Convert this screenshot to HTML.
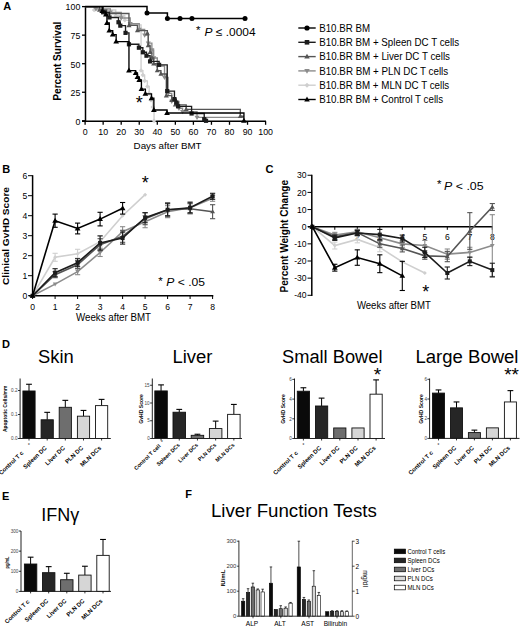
<!DOCTYPE html><html><head><meta charset="utf-8"><style>html,body{margin:0;padding:0;background:#fff;}svg{display:block;}text{font-family:"Liberation Sans", sans-serif;}</style></head><body><svg width="520" height="626" viewBox="0 0 520 626"><text x="3.20" y="10.10" font-size="11" text-anchor="start" font-weight="bold" >A</text>
<line x1="85.50" y1="6.10" x2="85.50" y2="121.90" stroke="#000" stroke-width="1.5"/>
<line x1="82.00" y1="121.20" x2="266.00" y2="121.20" stroke="#000" stroke-width="1.6"/>
<line x1="82.00" y1="120.80" x2="85.50" y2="120.80" stroke="#000" stroke-width="1.3"/>
<text x="80.30" y="124.60" font-size="8.8" text-anchor="end" >0</text>
<line x1="82.00" y1="92.25" x2="85.50" y2="92.25" stroke="#000" stroke-width="1.3"/>
<text x="80.30" y="96.05" font-size="8.8" text-anchor="end" >25</text>
<line x1="82.00" y1="63.70" x2="85.50" y2="63.70" stroke="#000" stroke-width="1.3"/>
<text x="80.30" y="67.50" font-size="8.8" text-anchor="end" >50</text>
<line x1="82.00" y1="35.15" x2="85.50" y2="35.15" stroke="#000" stroke-width="1.3"/>
<text x="80.30" y="38.95" font-size="8.8" text-anchor="end" >75</text>
<line x1="82.00" y1="6.60" x2="85.50" y2="6.60" stroke="#000" stroke-width="1.3"/>
<text x="80.30" y="10.40" font-size="8.8" text-anchor="end" >100</text>
<line x1="85.10" y1="121.20" x2="85.10" y2="124.80" stroke="#000" stroke-width="1.3"/>
<text x="85.10" y="135.00" font-size="8.8" text-anchor="middle" >0</text>
<line x1="103.15" y1="121.20" x2="103.15" y2="124.80" stroke="#000" stroke-width="1.3"/>
<text x="103.15" y="135.00" font-size="8.8" text-anchor="middle" >10</text>
<line x1="121.20" y1="121.20" x2="121.20" y2="124.80" stroke="#000" stroke-width="1.3"/>
<text x="121.20" y="135.00" font-size="8.8" text-anchor="middle" >20</text>
<line x1="139.25" y1="121.20" x2="139.25" y2="124.80" stroke="#000" stroke-width="1.3"/>
<text x="139.25" y="135.00" font-size="8.8" text-anchor="middle" >30</text>
<line x1="157.30" y1="121.20" x2="157.30" y2="124.80" stroke="#000" stroke-width="1.3"/>
<text x="157.30" y="135.00" font-size="8.8" text-anchor="middle" >40</text>
<line x1="175.35" y1="121.20" x2="175.35" y2="124.80" stroke="#000" stroke-width="1.3"/>
<text x="175.35" y="135.00" font-size="8.8" text-anchor="middle" >50</text>
<line x1="193.40" y1="121.20" x2="193.40" y2="124.80" stroke="#000" stroke-width="1.3"/>
<text x="193.40" y="135.00" font-size="8.8" text-anchor="middle" >60</text>
<line x1="211.45" y1="121.20" x2="211.45" y2="124.80" stroke="#000" stroke-width="1.3"/>
<text x="211.45" y="135.00" font-size="8.8" text-anchor="middle" >70</text>
<line x1="229.50" y1="121.20" x2="229.50" y2="124.80" stroke="#000" stroke-width="1.3"/>
<text x="229.50" y="135.00" font-size="8.8" text-anchor="middle" >80</text>
<line x1="247.55" y1="121.20" x2="247.55" y2="124.80" stroke="#000" stroke-width="1.3"/>
<text x="247.55" y="135.00" font-size="8.8" text-anchor="middle" >90</text>
<line x1="265.60" y1="121.20" x2="265.60" y2="124.80" stroke="#000" stroke-width="1.3"/>
<text x="265.60" y="135.00" font-size="8.8" text-anchor="middle" >100</text>
<text x="167.60" y="148.90" font-size="9.5" text-anchor="middle" textLength="68" lengthAdjust="spacingAndGlyphs" >Days after BMT</text>
<text x="0.00" y="0.00" font-size="10.2" text-anchor="middle" font-weight="bold" textLength="79" lengthAdjust="spacingAndGlyphs" transform="translate(60.8,61.2) rotate(-90)">Percent Survival</text>
<polyline points="85.10,6.60 94.12,6.60 94.12,10.03 115.78,10.03 115.78,15.74 124.81,15.74 124.81,20.30 130.22,20.30 130.22,24.87 141.06,24.87 141.06,70.55 142.86,70.55 142.86,75.12 144.66,75.12 144.66,80.83 147.37,80.83 147.37,86.54 149.18,86.54 149.18,93.39 150.98,93.39 150.98,100.24 152.79,100.24 152.79,107.10 154.05,107.10 154.05,120.80" fill="none" stroke="#cfcfcf" stroke-width="1.35" stroke-linejoin="miter"/>
<polygon points="94.12,7.73 96.42,10.03 94.12,12.33 91.83,10.03" fill="#cfcfcf"/>
<polygon points="115.78,13.44 118.08,15.74 115.78,18.04 113.48,15.74" fill="#cfcfcf"/>
<polygon points="124.81,18.00 127.11,20.30 124.81,22.60 122.51,20.30" fill="#cfcfcf"/>
<polygon points="130.22,22.57 132.53,24.87 130.22,27.17 127.92,24.87" fill="#cfcfcf"/>
<polygon points="141.06,68.25 143.36,70.55 141.06,72.85 138.75,70.55" fill="#cfcfcf"/>
<polygon points="142.86,72.82 145.16,75.12 142.86,77.42 140.56,75.12" fill="#cfcfcf"/>
<polygon points="144.66,78.53 146.97,80.83 144.66,83.13 142.36,80.83" fill="#cfcfcf"/>
<polygon points="147.37,84.24 149.67,86.54 147.37,88.84 145.07,86.54" fill="#cfcfcf"/>
<polygon points="149.18,91.09 151.48,93.39 149.18,95.69 146.88,93.39" fill="#cfcfcf"/>
<polygon points="150.98,97.94 153.28,100.24 150.98,102.54 148.68,100.24" fill="#cfcfcf"/>
<polygon points="152.79,104.80 155.09,107.10 152.79,109.40 150.49,107.10" fill="#cfcfcf"/>
<polygon points="154.05,118.50 156.35,120.80 154.05,123.10 151.75,120.80" fill="#cfcfcf"/>
<polyline points="85.10,6.60 95.93,6.60 95.93,8.88 110.37,8.88 110.37,12.31 121.20,12.31 121.20,18.02 130.22,18.02 130.22,23.73 139.25,23.73 139.25,29.44 144.66,29.44 144.66,35.15 148.27,35.15 148.27,43.14 151.88,43.14 151.88,50.00 153.69,50.00 153.69,57.99 157.30,57.99 157.30,65.98 164.52,65.98 164.52,77.40 168.13,77.40 168.13,93.39 171.74,93.39 171.74,101.39 178.96,101.39 178.96,108.24 182.57,108.24 182.57,111.66 197.01,111.66 197.01,117.37 243.94,117.37" fill="none" stroke="#8c8c8c" stroke-width="1.35" stroke-linejoin="miter"/>
<polygon points="95.93,11.53 93.40,7.16 98.46,7.16" fill="#8c8c8c"/>
<polygon points="110.37,14.96 107.84,10.59 112.90,10.59" fill="#8c8c8c"/>
<polygon points="121.20,20.67 118.67,16.30 123.73,16.30" fill="#8c8c8c"/>
<polygon points="130.22,26.38 127.69,22.01 132.75,22.01" fill="#8c8c8c"/>
<polygon points="139.25,32.09 136.72,27.72 141.78,27.72" fill="#8c8c8c"/>
<polygon points="144.66,37.80 142.13,33.43 147.19,33.43" fill="#8c8c8c"/>
<polygon points="148.27,45.79 145.74,41.42 150.80,41.42" fill="#8c8c8c"/>
<polygon points="151.88,52.64 149.35,48.27 154.41,48.27" fill="#8c8c8c"/>
<polygon points="153.69,60.64 151.16,56.27 156.22,56.27" fill="#8c8c8c"/>
<polygon points="157.30,68.63 154.77,64.26 159.83,64.26" fill="#8c8c8c"/>
<polygon points="164.52,80.05 161.99,75.68 167.05,75.68" fill="#8c8c8c"/>
<polygon points="168.13,96.04 165.60,91.67 170.66,91.67" fill="#8c8c8c"/>
<polygon points="171.74,104.03 169.21,99.66 174.27,99.66" fill="#8c8c8c"/>
<polygon points="178.96,110.88 176.43,106.51 181.49,106.51" fill="#8c8c8c"/>
<polygon points="182.57,114.31 180.04,109.94 185.10,109.94" fill="#8c8c8c"/>
<polygon points="197.01,120.02 194.48,115.65 199.54,115.65" fill="#8c8c8c"/>
<polyline points="85.10,6.60 99.54,6.60 99.54,10.03 106.76,10.03 106.76,13.45 128.96,13.45 128.96,25.44 137.44,25.44 137.44,30.58 147.37,30.58 147.37,33.44 148.27,33.44 148.27,45.43 150.08,45.43 150.08,52.28 151.88,52.28 151.88,57.99 153.69,57.99 153.69,63.70 157.30,63.70 157.30,70.55 160.91,70.55 160.91,73.98 166.32,73.98 166.32,95.68 171.74,95.68 171.74,100.24 175.35,100.24 175.35,104.81 186.18,104.81 186.18,109.38 240.33,109.38 240.33,116.23 243.94,116.23" fill="none" stroke="#555" stroke-width="1.35" stroke-linejoin="miter"/>
<polygon points="99.54,7.38 97.01,11.75 102.07,11.75" fill="#555"/>
<polygon points="106.76,10.81 104.23,15.18 109.29,15.18" fill="#555"/>
<polygon points="128.96,22.80 126.43,27.17 131.49,27.17" fill="#555"/>
<polygon points="137.44,27.94 134.91,32.31 139.97,32.31" fill="#555"/>
<polygon points="147.37,30.79 144.84,35.16 149.90,35.16" fill="#555"/>
<polygon points="148.27,42.78 145.74,47.15 150.80,47.15" fill="#555"/>
<polygon points="150.08,49.64 147.55,54.01 152.61,54.01" fill="#555"/>
<polygon points="151.88,55.34 149.35,59.72 154.41,59.72" fill="#555"/>
<polygon points="153.69,61.06 151.16,65.42 156.22,65.42" fill="#555"/>
<polygon points="157.30,67.91 154.77,72.28 159.83,72.28" fill="#555"/>
<polygon points="160.91,71.33 158.38,75.70 163.44,75.70" fill="#555"/>
<polygon points="166.32,93.03 163.79,97.40 168.85,97.40" fill="#555"/>
<polygon points="171.74,97.60 169.21,101.97 174.27,101.97" fill="#555"/>
<polygon points="175.35,102.17 172.82,106.54 177.88,106.54" fill="#555"/>
<polygon points="186.18,106.73 183.65,111.10 188.71,111.10" fill="#555"/>
<polygon points="240.33,113.59 237.80,117.96 242.86,117.96" fill="#555"/>
<polyline points="85.10,6.60 103.15,6.60 103.15,12.31 109.47,12.31 109.47,17.45 118.49,17.45 118.49,22.25 120.30,22.25 120.30,25.67 125.53,25.67 125.53,32.87 128.96,32.87 128.96,44.29 138.89,44.29 138.89,47.71 142.86,47.71 142.86,52.28 146.47,52.28 146.47,55.71 150.08,55.71 150.08,61.42 159.10,61.42 159.10,64.84 167.23,64.84 167.23,91.11 174.45,91.11 174.45,99.10 176.25,99.10 176.25,102.53 178.06,102.53 178.06,106.30 191.59,106.30 191.59,113.49 204.23,113.49 204.23,119.20 206.03,119.20 206.03,120.80" fill="none" stroke="#1c1c1c" stroke-width="1.35" stroke-linejoin="miter"/>
<rect x="101.05" y="10.21" width="4.20" height="4.20" fill="#1c1c1c"/>
<rect x="107.37" y="15.35" width="4.20" height="4.20" fill="#1c1c1c"/>
<rect x="116.39" y="20.15" width="4.20" height="4.20" fill="#1c1c1c"/>
<rect x="118.20" y="23.57" width="4.20" height="4.20" fill="#1c1c1c"/>
<rect x="123.43" y="30.77" width="4.20" height="4.20" fill="#1c1c1c"/>
<rect x="126.86" y="42.19" width="4.20" height="4.20" fill="#1c1c1c"/>
<rect x="136.79" y="45.61" width="4.20" height="4.20" fill="#1c1c1c"/>
<rect x="140.76" y="50.18" width="4.20" height="4.20" fill="#1c1c1c"/>
<rect x="144.37" y="53.61" width="4.20" height="4.20" fill="#1c1c1c"/>
<rect x="147.98" y="59.32" width="4.20" height="4.20" fill="#1c1c1c"/>
<rect x="157.00" y="62.74" width="4.20" height="4.20" fill="#1c1c1c"/>
<rect x="165.13" y="89.01" width="4.20" height="4.20" fill="#1c1c1c"/>
<rect x="172.35" y="97.00" width="4.20" height="4.20" fill="#1c1c1c"/>
<rect x="174.15" y="100.43" width="4.20" height="4.20" fill="#1c1c1c"/>
<rect x="175.96" y="104.20" width="4.20" height="4.20" fill="#1c1c1c"/>
<rect x="189.49" y="111.39" width="4.20" height="4.20" fill="#1c1c1c"/>
<rect x="202.13" y="117.10" width="4.20" height="4.20" fill="#1c1c1c"/>
<rect x="203.94" y="118.70" width="4.20" height="4.20" fill="#1c1c1c"/>
<polyline points="85.10,6.60 102.25,6.60 102.25,11.17 105.86,11.17 105.86,14.59 106.94,14.59 106.94,23.04 109.29,23.04 109.29,30.58 112.72,30.58 112.72,34.58 116.15,34.58 116.15,41.55 128.96,41.55 128.96,70.55 135.64,70.55 135.64,72.95 137.44,72.95 137.44,76.95 139.25,76.95 139.25,80.03 141.42,80.03 141.42,89.17 145.39,89.17 145.39,93.85 151.52,93.85 151.52,98.19 153.87,98.19 153.87,109.95 167.05,109.95 167.05,113.03 243.94,113.03 243.94,120.80" fill="none" stroke="#000" stroke-width="1.35" stroke-linejoin="miter"/>
<polygon points="102.25,8.18 99.39,13.12 105.11,13.12" fill="#000"/>
<polygon points="105.86,11.60 103.00,16.54 108.72,16.54" fill="#000"/>
<polygon points="106.94,20.05 104.08,24.99 109.80,24.99" fill="#000"/>
<polygon points="109.29,27.59 106.43,32.53 112.15,32.53" fill="#000"/>
<polygon points="112.72,31.59 109.86,36.53 115.58,36.53" fill="#000"/>
<polygon points="116.15,38.56 113.29,43.50 119.01,43.50" fill="#000"/>
<polygon points="128.96,67.56 126.10,72.50 131.82,72.50" fill="#000"/>
<polygon points="135.64,69.96 132.78,74.90 138.50,74.90" fill="#000"/>
<polygon points="137.44,73.96 134.58,78.90 140.31,78.90" fill="#000"/>
<polygon points="139.25,77.04 136.39,81.98 142.11,81.98" fill="#000"/>
<polygon points="141.42,86.18 138.56,91.12 144.28,91.12" fill="#000"/>
<polygon points="145.39,90.86 142.53,95.80 148.25,95.80" fill="#000"/>
<polygon points="151.52,95.20 148.66,100.14 154.38,100.14" fill="#000"/>
<polygon points="153.87,106.96 151.01,111.90 156.73,111.90" fill="#000"/>
<polygon points="167.05,110.04 164.19,114.98 169.91,114.98" fill="#000"/>
<polygon points="243.94,117.81 241.08,122.75 246.80,122.75" fill="#000"/>
<polyline points="85.10,6.60 147.01,6.60 147.01,13.00 167.41,13.00 167.41,18.59 245.74,18.59" fill="none" stroke="#000" stroke-width="1.5" stroke-linejoin="miter"/>
<circle cx="147.01" cy="13.00" r="2.50" fill="#000"/>
<circle cx="167.41" cy="18.59" r="2.50" fill="#000"/>
<circle cx="180.04" cy="18.59" r="2.50" fill="#000"/>
<circle cx="191.96" cy="18.59" r="2.50" fill="#000"/>
<circle cx="245.02" cy="18.59" r="2.50" fill="#000"/>
<text x="139.30" y="109.00" font-size="18" text-anchor="middle" >*</text>
<text x="198.30" y="33.80" font-size="11.5" text-anchor="middle" >*</text>
<text x="204.60" y="36.00" font-size="11.5" text-anchor="start" textLength="51" lengthAdjust="spacingAndGlyphs" ><tspan font-style="italic">P</tspan> ≤ .0004</text>
<line x1="298.30" y1="28.00" x2="315.70" y2="28.00" stroke="#000" stroke-width="1.4"/>
<circle cx="307.00" cy="28.00" r="2.60" fill="#000"/>
<text x="319.20" y="31.70" font-size="10.6" text-anchor="start" textLength="50.8" lengthAdjust="spacingAndGlyphs" >B10.BR BM</text>
<line x1="298.30" y1="42.30" x2="315.70" y2="42.30" stroke="#1c1c1c" stroke-width="1.4"/>
<rect x="304.70" y="40.00" width="4.60" height="4.60" fill="#1c1c1c"/>
<text x="319.20" y="46.00" font-size="10.6" text-anchor="start" textLength="140" lengthAdjust="spacingAndGlyphs" >B10.BR BM + Spleen DC T cells</text>
<line x1="298.30" y1="56.60" x2="315.70" y2="56.60" stroke="#555" stroke-width="1.4"/>
<polygon points="307.00,53.73 304.25,58.48 309.75,58.48" fill="#555"/>
<text x="319.20" y="60.30" font-size="10.6" text-anchor="start" textLength="130.8" lengthAdjust="spacingAndGlyphs" >B10.BR BM + Liver DC T cells</text>
<line x1="298.30" y1="70.90" x2="315.70" y2="70.90" stroke="#8c8c8c" stroke-width="1.4"/>
<polygon points="307.00,73.78 304.25,69.03 309.75,69.03" fill="#8c8c8c"/>
<text x="319.20" y="74.60" font-size="10.6" text-anchor="start" textLength="129" lengthAdjust="spacingAndGlyphs" >B10.BR BM + PLN DC T cells</text>
<line x1="298.30" y1="85.20" x2="315.70" y2="85.20" stroke="#cfcfcf" stroke-width="1.4"/>
<polygon points="307.00,82.70 309.50,85.20 307.00,87.70 304.50,85.20" fill="#cfcfcf"/>
<text x="319.20" y="88.90" font-size="10.6" text-anchor="start" textLength="130" lengthAdjust="spacingAndGlyphs" >B10.BR BM + MLN DC T cells</text>
<line x1="298.30" y1="99.50" x2="315.70" y2="99.50" stroke="#000" stroke-width="1.4"/>
<polygon points="307.00,96.62 304.25,101.38 309.75,101.38" fill="#000"/>
<text x="319.20" y="103.20" font-size="10.6" text-anchor="start" textLength="123.9" lengthAdjust="spacingAndGlyphs" >B10.BR BM + Control T cells</text>
<text x="2.30" y="172.50" font-size="11" text-anchor="start" font-weight="bold" >B</text>
<line x1="32.60" y1="175.20" x2="32.60" y2="296.50" stroke="#000" stroke-width="1.5"/>
<line x1="29.00" y1="295.70" x2="213.30" y2="295.70" stroke="#000" stroke-width="1.6"/>
<line x1="28.00" y1="295.70" x2="32.60" y2="295.70" stroke="#000" stroke-width="1"/>
<text x="27.30" y="298.80" font-size="8.6" text-anchor="end" >0</text>
<line x1="28.00" y1="275.70" x2="32.60" y2="275.70" stroke="#000" stroke-width="1"/>
<text x="27.30" y="278.80" font-size="8.6" text-anchor="end" >1</text>
<line x1="28.00" y1="255.70" x2="32.60" y2="255.70" stroke="#000" stroke-width="1"/>
<text x="27.30" y="258.80" font-size="8.6" text-anchor="end" >2</text>
<line x1="28.00" y1="235.70" x2="32.60" y2="235.70" stroke="#000" stroke-width="1"/>
<text x="27.30" y="238.80" font-size="8.6" text-anchor="end" >3</text>
<line x1="28.00" y1="215.70" x2="32.60" y2="215.70" stroke="#000" stroke-width="1"/>
<text x="27.30" y="218.80" font-size="8.6" text-anchor="end" >4</text>
<line x1="28.00" y1="195.70" x2="32.60" y2="195.70" stroke="#000" stroke-width="1"/>
<text x="27.30" y="198.80" font-size="8.6" text-anchor="end" >5</text>
<line x1="28.00" y1="175.70" x2="32.60" y2="175.70" stroke="#000" stroke-width="1"/>
<text x="27.30" y="178.80" font-size="8.6" text-anchor="end" >6</text>
<line x1="32.60" y1="295.70" x2="32.60" y2="299.00" stroke="#000" stroke-width="1"/>
<text x="32.60" y="309.80" font-size="8.6" text-anchor="middle" >0</text>
<line x1="55.10" y1="295.70" x2="55.10" y2="299.00" stroke="#000" stroke-width="1"/>
<text x="55.10" y="309.80" font-size="8.6" text-anchor="middle" >1</text>
<line x1="77.60" y1="295.70" x2="77.60" y2="299.00" stroke="#000" stroke-width="1"/>
<text x="77.60" y="309.80" font-size="8.6" text-anchor="middle" >2</text>
<line x1="100.10" y1="295.70" x2="100.10" y2="299.00" stroke="#000" stroke-width="1"/>
<text x="100.10" y="309.80" font-size="8.6" text-anchor="middle" >3</text>
<line x1="122.60" y1="295.70" x2="122.60" y2="299.00" stroke="#000" stroke-width="1"/>
<text x="122.60" y="309.80" font-size="8.6" text-anchor="middle" >4</text>
<line x1="145.10" y1="295.70" x2="145.10" y2="299.00" stroke="#000" stroke-width="1"/>
<text x="145.10" y="309.80" font-size="8.6" text-anchor="middle" >5</text>
<line x1="167.60" y1="295.70" x2="167.60" y2="299.00" stroke="#000" stroke-width="1"/>
<text x="167.60" y="309.80" font-size="8.6" text-anchor="middle" >6</text>
<line x1="190.10" y1="295.70" x2="190.10" y2="299.00" stroke="#000" stroke-width="1"/>
<text x="190.10" y="309.80" font-size="8.6" text-anchor="middle" >7</text>
<line x1="212.60" y1="295.70" x2="212.60" y2="299.00" stroke="#000" stroke-width="1"/>
<text x="212.60" y="309.80" font-size="8.6" text-anchor="middle" >8</text>
<text x="113.50" y="321.20" font-size="10" text-anchor="middle" textLength="75" lengthAdjust="spacingAndGlyphs" >Weeks after BMT</text>
<text x="0.00" y="0.00" font-size="9.7" text-anchor="middle" font-weight="bold" textLength="98" lengthAdjust="spacingAndGlyphs" transform="translate(8.5,236) rotate(-90)">Clinical GvHD Score</text>
<line x1="77.60" y1="268.70" x2="77.60" y2="274.70" stroke="#8c8c8c" stroke-width="1.1"/>
<line x1="75.00" y1="268.70" x2="80.20" y2="268.70" stroke="#8c8c8c" stroke-width="1.1"/>
<line x1="75.00" y1="274.70" x2="80.20" y2="274.70" stroke="#8c8c8c" stroke-width="1.1"/>
<line x1="100.10" y1="248.50" x2="100.10" y2="256.50" stroke="#8c8c8c" stroke-width="1.1"/>
<line x1="97.50" y1="248.50" x2="102.70" y2="248.50" stroke="#8c8c8c" stroke-width="1.1"/>
<line x1="97.50" y1="256.50" x2="102.70" y2="256.50" stroke="#8c8c8c" stroke-width="1.1"/>
<line x1="122.60" y1="226.70" x2="122.60" y2="236.70" stroke="#8c8c8c" stroke-width="1.1"/>
<line x1="120.00" y1="226.70" x2="125.20" y2="226.70" stroke="#8c8c8c" stroke-width="1.1"/>
<line x1="120.00" y1="236.70" x2="125.20" y2="236.70" stroke="#8c8c8c" stroke-width="1.1"/>
<line x1="145.10" y1="215.70" x2="145.10" y2="227.70" stroke="#8c8c8c" stroke-width="1.1"/>
<line x1="142.50" y1="215.70" x2="147.70" y2="215.70" stroke="#8c8c8c" stroke-width="1.1"/>
<line x1="142.50" y1="227.70" x2="147.70" y2="227.70" stroke="#8c8c8c" stroke-width="1.1"/>
<line x1="167.60" y1="205.70" x2="167.60" y2="217.70" stroke="#8c8c8c" stroke-width="1.1"/>
<line x1="165.00" y1="205.70" x2="170.20" y2="205.70" stroke="#8c8c8c" stroke-width="1.1"/>
<line x1="165.00" y1="217.70" x2="170.20" y2="217.70" stroke="#8c8c8c" stroke-width="1.1"/>
<line x1="190.10" y1="201.70" x2="190.10" y2="213.70" stroke="#8c8c8c" stroke-width="1.1"/>
<line x1="187.50" y1="201.70" x2="192.70" y2="201.70" stroke="#8c8c8c" stroke-width="1.1"/>
<line x1="187.50" y1="213.70" x2="192.70" y2="213.70" stroke="#8c8c8c" stroke-width="1.1"/>
<line x1="212.60" y1="195.30" x2="212.60" y2="201.30" stroke="#8c8c8c" stroke-width="1.1"/>
<line x1="210.00" y1="195.30" x2="215.20" y2="195.30" stroke="#8c8c8c" stroke-width="1.1"/>
<line x1="210.00" y1="201.30" x2="215.20" y2="201.30" stroke="#8c8c8c" stroke-width="1.1"/>
<polyline points="32.60,295.70 55.10,284.10 77.60,271.70 100.10,252.50 122.60,231.70 145.10,221.70 167.60,211.70 190.10,207.70 212.60,198.30" fill="none" stroke="#8c8c8c" stroke-width="1.6" stroke-linejoin="miter"/>
<polygon points="32.60,298.12 30.29,294.12 34.91,294.12" fill="#8c8c8c"/>
<polygon points="55.10,286.51 52.79,282.52 57.41,282.52" fill="#8c8c8c"/>
<polygon points="77.60,274.12 75.29,270.12 79.91,270.12" fill="#8c8c8c"/>
<polygon points="100.10,254.91 97.79,250.93 102.41,250.93" fill="#8c8c8c"/>
<polygon points="122.60,234.11 120.29,230.12 124.91,230.12" fill="#8c8c8c"/>
<polygon points="145.10,224.11 142.79,220.12 147.41,220.12" fill="#8c8c8c"/>
<polygon points="167.60,214.11 165.29,210.12 169.91,210.12" fill="#8c8c8c"/>
<polygon points="190.10,210.11 187.79,206.12 192.41,206.12" fill="#8c8c8c"/>
<polygon points="212.60,200.71 210.29,196.72 214.91,196.72" fill="#8c8c8c"/>
<line x1="55.10" y1="253.30" x2="55.10" y2="261.30" stroke="#cfcfcf" stroke-width="1.1"/>
<line x1="52.50" y1="253.30" x2="57.70" y2="253.30" stroke="#cfcfcf" stroke-width="1.1"/>
<line x1="52.50" y1="261.30" x2="57.70" y2="261.30" stroke="#cfcfcf" stroke-width="1.1"/>
<line x1="77.60" y1="249.30" x2="77.60" y2="258.10" stroke="#cfcfcf" stroke-width="1.1"/>
<line x1="75.00" y1="249.30" x2="80.20" y2="249.30" stroke="#cfcfcf" stroke-width="1.1"/>
<line x1="75.00" y1="258.10" x2="80.20" y2="258.10" stroke="#cfcfcf" stroke-width="1.1"/>
<line x1="100.10" y1="235.70" x2="100.10" y2="247.70" stroke="#cfcfcf" stroke-width="1.1"/>
<line x1="97.50" y1="235.70" x2="102.70" y2="235.70" stroke="#cfcfcf" stroke-width="1.1"/>
<line x1="97.50" y1="247.70" x2="102.70" y2="247.70" stroke="#cfcfcf" stroke-width="1.1"/>
<polyline points="32.60,295.70 55.10,257.30 77.60,253.70 100.10,241.70 122.60,215.70 145.10,194.70" fill="none" stroke="#cfcfcf" stroke-width="1.6" stroke-linejoin="miter"/>
<polygon points="32.60,293.70 34.60,295.70 32.60,297.70 30.60,295.70" fill="#cfcfcf"/>
<polygon points="55.10,255.30 57.10,257.30 55.10,259.30 53.10,257.30" fill="#cfcfcf"/>
<polygon points="77.60,251.70 79.60,253.70 77.60,255.70 75.60,253.70" fill="#cfcfcf"/>
<polygon points="100.10,239.70 102.10,241.70 100.10,243.70 98.10,241.70" fill="#cfcfcf"/>
<polygon points="122.60,213.70 124.60,215.70 122.60,217.70 120.60,215.70" fill="#cfcfcf"/>
<polygon points="145.10,192.70 147.10,194.70 145.10,196.70 143.10,194.70" fill="#cfcfcf"/>
<line x1="55.10" y1="271.70" x2="55.10" y2="277.70" stroke="#555" stroke-width="1.1"/>
<line x1="52.50" y1="271.70" x2="57.70" y2="271.70" stroke="#555" stroke-width="1.1"/>
<line x1="52.50" y1="277.70" x2="57.70" y2="277.70" stroke="#555" stroke-width="1.1"/>
<line x1="77.60" y1="260.70" x2="77.60" y2="268.70" stroke="#555" stroke-width="1.1"/>
<line x1="75.00" y1="260.70" x2="80.20" y2="260.70" stroke="#555" stroke-width="1.1"/>
<line x1="75.00" y1="268.70" x2="80.20" y2="268.70" stroke="#555" stroke-width="1.1"/>
<line x1="100.10" y1="238.70" x2="100.10" y2="250.70" stroke="#555" stroke-width="1.1"/>
<line x1="97.50" y1="238.70" x2="102.70" y2="238.70" stroke="#555" stroke-width="1.1"/>
<line x1="97.50" y1="250.70" x2="102.70" y2="250.70" stroke="#555" stroke-width="1.1"/>
<line x1="122.60" y1="230.30" x2="122.60" y2="242.30" stroke="#555" stroke-width="1.1"/>
<line x1="120.00" y1="230.30" x2="125.20" y2="230.30" stroke="#555" stroke-width="1.1"/>
<line x1="120.00" y1="242.30" x2="125.20" y2="242.30" stroke="#555" stroke-width="1.1"/>
<line x1="145.10" y1="212.70" x2="145.10" y2="224.70" stroke="#555" stroke-width="1.1"/>
<line x1="142.50" y1="212.70" x2="147.70" y2="212.70" stroke="#555" stroke-width="1.1"/>
<line x1="142.50" y1="224.70" x2="147.70" y2="224.70" stroke="#555" stroke-width="1.1"/>
<line x1="167.60" y1="202.70" x2="167.60" y2="216.70" stroke="#555" stroke-width="1.1"/>
<line x1="165.00" y1="202.70" x2="170.20" y2="202.70" stroke="#555" stroke-width="1.1"/>
<line x1="165.00" y1="216.70" x2="170.20" y2="216.70" stroke="#555" stroke-width="1.1"/>
<line x1="190.10" y1="203.70" x2="190.10" y2="213.70" stroke="#555" stroke-width="1.1"/>
<line x1="187.50" y1="203.70" x2="192.70" y2="203.70" stroke="#555" stroke-width="1.1"/>
<line x1="187.50" y1="213.70" x2="192.70" y2="213.70" stroke="#555" stroke-width="1.1"/>
<line x1="212.60" y1="204.70" x2="212.60" y2="218.70" stroke="#555" stroke-width="1.1"/>
<line x1="210.00" y1="204.70" x2="215.20" y2="204.70" stroke="#555" stroke-width="1.1"/>
<line x1="210.00" y1="218.70" x2="215.20" y2="218.70" stroke="#555" stroke-width="1.1"/>
<polyline points="32.60,295.70 55.10,274.70 77.60,264.70 100.10,244.70 122.60,236.30 145.10,218.70 167.60,209.70 190.10,208.70 212.60,211.70" fill="none" stroke="#555" stroke-width="1.6" stroke-linejoin="miter"/>
<polygon points="32.60,293.17 30.18,297.35 35.02,297.35" fill="#555"/>
<polygon points="55.10,272.17 52.68,276.35 57.52,276.35" fill="#555"/>
<polygon points="77.60,262.17 75.18,266.35 80.02,266.35" fill="#555"/>
<polygon points="100.10,242.17 97.68,246.35 102.52,246.35" fill="#555"/>
<polygon points="122.60,233.77 120.18,237.95 125.02,237.95" fill="#555"/>
<polygon points="145.10,216.17 142.68,220.35 147.52,220.35" fill="#555"/>
<polygon points="167.60,207.17 165.18,211.35 170.02,211.35" fill="#555"/>
<polygon points="190.10,206.17 187.68,210.35 192.52,210.35" fill="#555"/>
<polygon points="212.60,209.17 210.18,213.35 215.02,213.35" fill="#555"/>
<line x1="55.10" y1="268.70" x2="55.10" y2="276.70" stroke="#1c1c1c" stroke-width="1.1"/>
<line x1="52.50" y1="268.70" x2="57.70" y2="268.70" stroke="#1c1c1c" stroke-width="1.1"/>
<line x1="52.50" y1="276.70" x2="57.70" y2="276.70" stroke="#1c1c1c" stroke-width="1.1"/>
<line x1="77.60" y1="258.70" x2="77.60" y2="266.70" stroke="#1c1c1c" stroke-width="1.1"/>
<line x1="75.00" y1="258.70" x2="80.20" y2="258.70" stroke="#1c1c1c" stroke-width="1.1"/>
<line x1="75.00" y1="266.70" x2="80.20" y2="266.70" stroke="#1c1c1c" stroke-width="1.1"/>
<line x1="100.10" y1="235.90" x2="100.10" y2="249.90" stroke="#1c1c1c" stroke-width="1.1"/>
<line x1="97.50" y1="235.90" x2="102.70" y2="235.90" stroke="#1c1c1c" stroke-width="1.1"/>
<line x1="97.50" y1="249.90" x2="102.70" y2="249.90" stroke="#1c1c1c" stroke-width="1.1"/>
<line x1="122.60" y1="232.10" x2="122.60" y2="244.10" stroke="#1c1c1c" stroke-width="1.1"/>
<line x1="120.00" y1="232.10" x2="125.20" y2="232.10" stroke="#1c1c1c" stroke-width="1.1"/>
<line x1="120.00" y1="244.10" x2="125.20" y2="244.10" stroke="#1c1c1c" stroke-width="1.1"/>
<line x1="145.10" y1="212.70" x2="145.10" y2="222.70" stroke="#1c1c1c" stroke-width="1.1"/>
<line x1="142.50" y1="212.70" x2="147.70" y2="212.70" stroke="#1c1c1c" stroke-width="1.1"/>
<line x1="142.50" y1="222.70" x2="147.70" y2="222.70" stroke="#1c1c1c" stroke-width="1.1"/>
<line x1="167.60" y1="203.70" x2="167.60" y2="215.70" stroke="#1c1c1c" stroke-width="1.1"/>
<line x1="165.00" y1="203.70" x2="170.20" y2="203.70" stroke="#1c1c1c" stroke-width="1.1"/>
<line x1="165.00" y1="215.70" x2="170.20" y2="215.70" stroke="#1c1c1c" stroke-width="1.1"/>
<line x1="190.10" y1="202.70" x2="190.10" y2="212.70" stroke="#1c1c1c" stroke-width="1.1"/>
<line x1="187.50" y1="202.70" x2="192.70" y2="202.70" stroke="#1c1c1c" stroke-width="1.1"/>
<line x1="187.50" y1="212.70" x2="192.70" y2="212.70" stroke="#1c1c1c" stroke-width="1.1"/>
<line x1="212.60" y1="193.30" x2="212.60" y2="199.30" stroke="#1c1c1c" stroke-width="1.1"/>
<line x1="210.00" y1="193.30" x2="215.20" y2="193.30" stroke="#1c1c1c" stroke-width="1.1"/>
<line x1="210.00" y1="199.30" x2="215.20" y2="199.30" stroke="#1c1c1c" stroke-width="1.1"/>
<polyline points="32.60,295.70 55.10,272.70 77.60,262.70 100.10,242.90 122.60,238.10 145.10,217.70 167.60,209.70 190.10,207.70 212.60,196.30" fill="none" stroke="#1c1c1c" stroke-width="1.6" stroke-linejoin="miter"/>
<rect x="30.60" y="293.70" width="4.00" height="4.00" fill="#1c1c1c"/>
<rect x="53.10" y="270.70" width="4.00" height="4.00" fill="#1c1c1c"/>
<rect x="75.60" y="260.70" width="4.00" height="4.00" fill="#1c1c1c"/>
<rect x="98.10" y="240.90" width="4.00" height="4.00" fill="#1c1c1c"/>
<rect x="120.60" y="236.10" width="4.00" height="4.00" fill="#1c1c1c"/>
<rect x="143.10" y="215.70" width="4.00" height="4.00" fill="#1c1c1c"/>
<rect x="165.60" y="207.70" width="4.00" height="4.00" fill="#1c1c1c"/>
<rect x="188.10" y="205.70" width="4.00" height="4.00" fill="#1c1c1c"/>
<rect x="210.60" y="194.30" width="4.00" height="4.00" fill="#1c1c1c"/>
<line x1="55.10" y1="214.10" x2="55.10" y2="227.30" stroke="#000" stroke-width="1.1"/>
<line x1="52.50" y1="214.10" x2="57.70" y2="214.10" stroke="#000" stroke-width="1.1"/>
<line x1="52.50" y1="227.30" x2="57.70" y2="227.30" stroke="#000" stroke-width="1.1"/>
<line x1="77.60" y1="223.10" x2="77.60" y2="233.90" stroke="#000" stroke-width="1.1"/>
<line x1="75.00" y1="223.10" x2="80.20" y2="223.10" stroke="#000" stroke-width="1.1"/>
<line x1="75.00" y1="233.90" x2="80.20" y2="233.90" stroke="#000" stroke-width="1.1"/>
<line x1="100.10" y1="212.30" x2="100.10" y2="225.90" stroke="#000" stroke-width="1.1"/>
<line x1="97.50" y1="212.30" x2="102.70" y2="212.30" stroke="#000" stroke-width="1.1"/>
<line x1="97.50" y1="225.90" x2="102.70" y2="225.90" stroke="#000" stroke-width="1.1"/>
<line x1="122.60" y1="202.50" x2="122.60" y2="214.10" stroke="#000" stroke-width="1.1"/>
<line x1="120.00" y1="202.50" x2="125.20" y2="202.50" stroke="#000" stroke-width="1.1"/>
<line x1="120.00" y1="214.10" x2="125.20" y2="214.10" stroke="#000" stroke-width="1.1"/>
<polyline points="32.60,295.70 55.10,220.70 77.60,228.50 100.10,219.10 122.60,208.30" fill="none" stroke="#000" stroke-width="1.6" stroke-linejoin="miter"/>
<polygon points="32.60,292.71 29.74,297.65 35.46,297.65" fill="#000"/>
<polygon points="55.10,217.71 52.24,222.65 57.96,222.65" fill="#000"/>
<polygon points="77.60,225.51 74.74,230.45 80.46,230.45" fill="#000"/>
<polygon points="100.10,216.11 97.24,221.05 102.96,221.05" fill="#000"/>
<polygon points="122.60,205.31 119.74,210.25 125.46,210.25" fill="#000"/>
<text x="145.30" y="188.50" font-size="18" text-anchor="middle" >*</text>
<text x="160.40" y="284.60" font-size="11.5" text-anchor="middle" >*</text>
<text x="166.30" y="286.20" font-size="11.5" text-anchor="start" textLength="38.7" lengthAdjust="spacingAndGlyphs" ><tspan font-style="italic">P</tspan> &lt; .05</text>
<text x="265.50" y="173.40" font-size="11" text-anchor="start" font-weight="bold" >C</text>
<line x1="311.80" y1="174.80" x2="311.80" y2="296.00" stroke="#000" stroke-width="1.5"/>
<line x1="308.00" y1="226.70" x2="493.00" y2="226.70" stroke="#000" stroke-width="1.6"/>
<line x1="307.50" y1="295.30" x2="311.80" y2="295.30" stroke="#000" stroke-width="1"/>
<text x="306.60" y="298.40" font-size="8.6" text-anchor="end" >-40</text>
<line x1="307.50" y1="278.15" x2="311.80" y2="278.15" stroke="#000" stroke-width="1"/>
<text x="306.60" y="281.25" font-size="8.6" text-anchor="end" >-30</text>
<line x1="307.50" y1="261.00" x2="311.80" y2="261.00" stroke="#000" stroke-width="1"/>
<text x="306.60" y="264.10" font-size="8.6" text-anchor="end" >-20</text>
<line x1="307.50" y1="243.85" x2="311.80" y2="243.85" stroke="#000" stroke-width="1"/>
<text x="306.60" y="246.95" font-size="8.6" text-anchor="end" >-10</text>
<line x1="307.50" y1="226.70" x2="311.80" y2="226.70" stroke="#000" stroke-width="1"/>
<text x="306.60" y="229.80" font-size="8.6" text-anchor="end" >0</text>
<line x1="307.50" y1="209.55" x2="311.80" y2="209.55" stroke="#000" stroke-width="1"/>
<text x="306.60" y="212.65" font-size="8.6" text-anchor="end" >10</text>
<line x1="307.50" y1="192.40" x2="311.80" y2="192.40" stroke="#000" stroke-width="1"/>
<text x="306.60" y="195.50" font-size="8.6" text-anchor="end" >20</text>
<line x1="307.50" y1="175.25" x2="311.80" y2="175.25" stroke="#000" stroke-width="1"/>
<text x="306.60" y="178.35" font-size="8.6" text-anchor="end" >30</text>
<line x1="312.30" y1="226.70" x2="312.30" y2="229.80" stroke="#000" stroke-width="1"/>
<line x1="334.80" y1="226.70" x2="334.80" y2="229.80" stroke="#000" stroke-width="1"/>
<text x="334.80" y="240.30" font-size="8.6" text-anchor="middle" >1</text>
<line x1="357.30" y1="226.70" x2="357.30" y2="229.80" stroke="#000" stroke-width="1"/>
<text x="357.30" y="240.30" font-size="8.6" text-anchor="middle" >2</text>
<line x1="379.80" y1="226.70" x2="379.80" y2="229.80" stroke="#000" stroke-width="1"/>
<text x="379.80" y="240.30" font-size="8.6" text-anchor="middle" >3</text>
<line x1="402.30" y1="226.70" x2="402.30" y2="229.80" stroke="#000" stroke-width="1"/>
<text x="402.30" y="240.30" font-size="8.6" text-anchor="middle" >4</text>
<line x1="424.80" y1="226.70" x2="424.80" y2="229.80" stroke="#000" stroke-width="1"/>
<text x="424.80" y="240.30" font-size="8.6" text-anchor="middle" >5</text>
<line x1="447.30" y1="226.70" x2="447.30" y2="229.80" stroke="#000" stroke-width="1"/>
<text x="447.30" y="240.30" font-size="8.6" text-anchor="middle" >6</text>
<line x1="469.80" y1="226.70" x2="469.80" y2="229.80" stroke="#000" stroke-width="1"/>
<text x="469.80" y="240.30" font-size="8.6" text-anchor="middle" >7</text>
<line x1="492.30" y1="226.70" x2="492.30" y2="229.80" stroke="#000" stroke-width="1"/>
<text x="492.30" y="240.30" font-size="8.6" text-anchor="middle" >8</text>
<text x="393.90" y="309.00" font-size="10" text-anchor="middle" textLength="74" lengthAdjust="spacingAndGlyphs" >Weeks after BMT</text>
<text x="0.00" y="0.00" font-size="10" text-anchor="middle" font-weight="bold" textLength="112.5" lengthAdjust="spacingAndGlyphs" transform="translate(288.4,236.2) rotate(-90)">Percent Weight Change</text>
<line x1="334.80" y1="232.36" x2="334.80" y2="237.50" stroke="#8c8c8c" stroke-width="1.1"/>
<line x1="332.20" y1="232.36" x2="337.40" y2="232.36" stroke="#8c8c8c" stroke-width="1.1"/>
<line x1="332.20" y1="237.50" x2="337.40" y2="237.50" stroke="#8c8c8c" stroke-width="1.1"/>
<line x1="357.30" y1="229.27" x2="357.30" y2="234.42" stroke="#8c8c8c" stroke-width="1.1"/>
<line x1="354.70" y1="229.27" x2="359.90" y2="229.27" stroke="#8c8c8c" stroke-width="1.1"/>
<line x1="354.70" y1="234.42" x2="359.90" y2="234.42" stroke="#8c8c8c" stroke-width="1.1"/>
<line x1="379.80" y1="234.42" x2="379.80" y2="241.28" stroke="#8c8c8c" stroke-width="1.1"/>
<line x1="377.20" y1="234.42" x2="382.40" y2="234.42" stroke="#8c8c8c" stroke-width="1.1"/>
<line x1="377.20" y1="241.28" x2="382.40" y2="241.28" stroke="#8c8c8c" stroke-width="1.1"/>
<line x1="402.30" y1="240.42" x2="402.30" y2="247.28" stroke="#8c8c8c" stroke-width="1.1"/>
<line x1="399.70" y1="240.42" x2="404.90" y2="240.42" stroke="#8c8c8c" stroke-width="1.1"/>
<line x1="399.70" y1="247.28" x2="404.90" y2="247.28" stroke="#8c8c8c" stroke-width="1.1"/>
<line x1="424.80" y1="240.42" x2="424.80" y2="250.71" stroke="#8c8c8c" stroke-width="1.1"/>
<line x1="422.20" y1="240.42" x2="427.40" y2="240.42" stroke="#8c8c8c" stroke-width="1.1"/>
<line x1="422.20" y1="250.71" x2="427.40" y2="250.71" stroke="#8c8c8c" stroke-width="1.1"/>
<line x1="447.30" y1="249.00" x2="447.30" y2="259.28" stroke="#8c8c8c" stroke-width="1.1"/>
<line x1="444.70" y1="249.00" x2="449.90" y2="249.00" stroke="#8c8c8c" stroke-width="1.1"/>
<line x1="444.70" y1="259.28" x2="449.90" y2="259.28" stroke="#8c8c8c" stroke-width="1.1"/>
<line x1="469.80" y1="247.28" x2="469.80" y2="257.57" stroke="#8c8c8c" stroke-width="1.1"/>
<line x1="467.20" y1="247.28" x2="472.40" y2="247.28" stroke="#8c8c8c" stroke-width="1.1"/>
<line x1="467.20" y1="257.57" x2="472.40" y2="257.57" stroke="#8c8c8c" stroke-width="1.1"/>
<line x1="492.30" y1="214.69" x2="492.30" y2="276.44" stroke="#8c8c8c" stroke-width="1.1"/>
<line x1="489.70" y1="214.69" x2="494.90" y2="214.69" stroke="#8c8c8c" stroke-width="1.1"/>
<line x1="489.70" y1="276.44" x2="494.90" y2="276.44" stroke="#8c8c8c" stroke-width="1.1"/>
<polyline points="312.30,226.70 334.80,234.93 357.30,231.84 379.80,237.85 402.30,243.85 424.80,245.56 447.30,254.14 469.80,252.42 492.30,245.56" fill="none" stroke="#8c8c8c" stroke-width="1.6" stroke-linejoin="miter"/>
<polygon points="312.30,229.11 309.99,225.12 314.61,225.12" fill="#8c8c8c"/>
<polygon points="334.80,237.35 332.49,233.36 337.11,233.36" fill="#8c8c8c"/>
<polygon points="357.30,234.26 354.99,230.27 359.61,230.27" fill="#8c8c8c"/>
<polygon points="379.80,240.26 377.49,236.27 382.11,236.27" fill="#8c8c8c"/>
<polygon points="402.30,246.26 399.99,242.28 404.61,242.28" fill="#8c8c8c"/>
<polygon points="424.80,247.98 422.49,243.99 427.11,243.99" fill="#8c8c8c"/>
<polygon points="447.30,256.56 444.99,252.56 449.61,252.56" fill="#8c8c8c"/>
<polygon points="469.80,254.84 467.49,250.85 472.11,250.85" fill="#8c8c8c"/>
<polygon points="492.30,247.98 489.99,243.99 494.61,243.99" fill="#8c8c8c"/>
<line x1="334.80" y1="242.13" x2="334.80" y2="249.00" stroke="#cfcfcf" stroke-width="1.1"/>
<line x1="332.20" y1="242.13" x2="337.40" y2="242.13" stroke="#cfcfcf" stroke-width="1.1"/>
<line x1="332.20" y1="249.00" x2="337.40" y2="249.00" stroke="#cfcfcf" stroke-width="1.1"/>
<line x1="357.30" y1="235.96" x2="357.30" y2="242.82" stroke="#cfcfcf" stroke-width="1.1"/>
<line x1="354.70" y1="235.96" x2="359.90" y2="235.96" stroke="#cfcfcf" stroke-width="1.1"/>
<line x1="354.70" y1="242.82" x2="359.90" y2="242.82" stroke="#cfcfcf" stroke-width="1.1"/>
<line x1="379.80" y1="243.16" x2="379.80" y2="251.74" stroke="#cfcfcf" stroke-width="1.1"/>
<line x1="377.20" y1="243.16" x2="382.40" y2="243.16" stroke="#cfcfcf" stroke-width="1.1"/>
<line x1="377.20" y1="251.74" x2="382.40" y2="251.74" stroke="#cfcfcf" stroke-width="1.1"/>
<polyline points="312.30,226.70 334.80,245.56 357.30,239.39 379.80,247.45 402.30,261.86 424.80,273.00" fill="none" stroke="#cfcfcf" stroke-width="1.6" stroke-linejoin="miter"/>
<polygon points="312.30,224.70 314.30,226.70 312.30,228.70 310.30,226.70" fill="#cfcfcf"/>
<polygon points="334.80,243.56 336.80,245.56 334.80,247.56 332.80,245.56" fill="#cfcfcf"/>
<polygon points="357.30,237.39 359.30,239.39 357.30,241.39 355.30,239.39" fill="#cfcfcf"/>
<polygon points="379.80,245.45 381.80,247.45 379.80,249.45 377.80,247.45" fill="#cfcfcf"/>
<polygon points="402.30,259.86 404.30,261.86 402.30,263.86 400.30,261.86" fill="#cfcfcf"/>
<polygon points="424.80,271.00 426.80,273.00 424.80,275.00 422.80,273.00" fill="#cfcfcf"/>
<line x1="334.80" y1="234.25" x2="334.80" y2="239.39" stroke="#555" stroke-width="1.1"/>
<line x1="332.20" y1="234.25" x2="337.40" y2="234.25" stroke="#555" stroke-width="1.1"/>
<line x1="332.20" y1="239.39" x2="337.40" y2="239.39" stroke="#555" stroke-width="1.1"/>
<line x1="357.30" y1="229.96" x2="357.30" y2="235.10" stroke="#555" stroke-width="1.1"/>
<line x1="354.70" y1="229.96" x2="359.90" y2="229.96" stroke="#555" stroke-width="1.1"/>
<line x1="354.70" y1="235.10" x2="359.90" y2="235.10" stroke="#555" stroke-width="1.1"/>
<line x1="379.80" y1="240.42" x2="379.80" y2="247.28" stroke="#555" stroke-width="1.1"/>
<line x1="377.20" y1="240.42" x2="382.40" y2="240.42" stroke="#555" stroke-width="1.1"/>
<line x1="377.20" y1="247.28" x2="382.40" y2="247.28" stroke="#555" stroke-width="1.1"/>
<line x1="402.30" y1="245.05" x2="402.30" y2="251.91" stroke="#555" stroke-width="1.1"/>
<line x1="399.70" y1="245.05" x2="404.90" y2="245.05" stroke="#555" stroke-width="1.1"/>
<line x1="399.70" y1="251.91" x2="404.90" y2="251.91" stroke="#555" stroke-width="1.1"/>
<line x1="424.80" y1="252.42" x2="424.80" y2="259.28" stroke="#555" stroke-width="1.1"/>
<line x1="422.20" y1="252.42" x2="427.40" y2="252.42" stroke="#555" stroke-width="1.1"/>
<line x1="422.20" y1="259.28" x2="427.40" y2="259.28" stroke="#555" stroke-width="1.1"/>
<line x1="447.30" y1="251.40" x2="447.30" y2="261.69" stroke="#555" stroke-width="1.1"/>
<line x1="444.70" y1="251.40" x2="449.90" y2="251.40" stroke="#555" stroke-width="1.1"/>
<line x1="444.70" y1="261.69" x2="449.90" y2="261.69" stroke="#555" stroke-width="1.1"/>
<line x1="469.80" y1="212.64" x2="469.80" y2="249.34" stroke="#555" stroke-width="1.1"/>
<line x1="467.20" y1="212.64" x2="472.40" y2="212.64" stroke="#555" stroke-width="1.1"/>
<line x1="467.20" y1="249.34" x2="472.40" y2="249.34" stroke="#555" stroke-width="1.1"/>
<line x1="492.30" y1="203.55" x2="492.30" y2="210.41" stroke="#555" stroke-width="1.1"/>
<line x1="489.70" y1="203.55" x2="494.90" y2="203.55" stroke="#555" stroke-width="1.1"/>
<line x1="489.70" y1="210.41" x2="494.90" y2="210.41" stroke="#555" stroke-width="1.1"/>
<polyline points="312.30,226.70 334.80,236.82 357.30,232.53 379.80,243.85 402.30,248.48 424.80,255.85 447.30,256.54 469.80,230.99 492.30,206.98" fill="none" stroke="#555" stroke-width="1.6" stroke-linejoin="miter"/>
<polygon points="312.30,224.17 309.88,228.35 314.72,228.35" fill="#555"/>
<polygon points="334.80,234.29 332.38,238.47 337.22,238.47" fill="#555"/>
<polygon points="357.30,230.00 354.88,234.18 359.72,234.18" fill="#555"/>
<polygon points="379.80,241.32 377.38,245.50 382.22,245.50" fill="#555"/>
<polygon points="402.30,245.95 399.88,250.13 404.72,250.13" fill="#555"/>
<polygon points="424.80,253.32 422.38,257.50 427.22,257.50" fill="#555"/>
<polygon points="447.30,254.01 444.88,258.19 449.72,258.19" fill="#555"/>
<polygon points="469.80,228.46 467.38,232.64 472.22,232.64" fill="#555"/>
<polygon points="492.30,204.45 489.88,208.63 494.72,208.63" fill="#555"/>
<line x1="334.80" y1="235.27" x2="334.80" y2="240.42" stroke="#1c1c1c" stroke-width="1.1"/>
<line x1="332.20" y1="235.27" x2="337.40" y2="235.27" stroke="#1c1c1c" stroke-width="1.1"/>
<line x1="332.20" y1="240.42" x2="337.40" y2="240.42" stroke="#1c1c1c" stroke-width="1.1"/>
<line x1="357.30" y1="230.47" x2="357.30" y2="235.62" stroke="#1c1c1c" stroke-width="1.1"/>
<line x1="354.70" y1="230.47" x2="359.90" y2="230.47" stroke="#1c1c1c" stroke-width="1.1"/>
<line x1="354.70" y1="235.62" x2="359.90" y2="235.62" stroke="#1c1c1c" stroke-width="1.1"/>
<line x1="379.80" y1="229.44" x2="379.80" y2="239.73" stroke="#1c1c1c" stroke-width="1.1"/>
<line x1="377.20" y1="229.44" x2="382.40" y2="229.44" stroke="#1c1c1c" stroke-width="1.1"/>
<line x1="377.20" y1="239.73" x2="382.40" y2="239.73" stroke="#1c1c1c" stroke-width="1.1"/>
<line x1="402.30" y1="235.10" x2="402.30" y2="241.96" stroke="#1c1c1c" stroke-width="1.1"/>
<line x1="399.70" y1="235.10" x2="404.90" y2="235.10" stroke="#1c1c1c" stroke-width="1.1"/>
<line x1="399.70" y1="241.96" x2="404.90" y2="241.96" stroke="#1c1c1c" stroke-width="1.1"/>
<line x1="424.80" y1="247.28" x2="424.80" y2="257.57" stroke="#1c1c1c" stroke-width="1.1"/>
<line x1="422.20" y1="247.28" x2="427.40" y2="247.28" stroke="#1c1c1c" stroke-width="1.1"/>
<line x1="422.20" y1="257.57" x2="427.40" y2="257.57" stroke="#1c1c1c" stroke-width="1.1"/>
<line x1="447.30" y1="267.00" x2="447.30" y2="279.01" stroke="#1c1c1c" stroke-width="1.1"/>
<line x1="444.70" y1="267.00" x2="449.90" y2="267.00" stroke="#1c1c1c" stroke-width="1.1"/>
<line x1="444.70" y1="279.01" x2="449.90" y2="279.01" stroke="#1c1c1c" stroke-width="1.1"/>
<line x1="469.80" y1="257.06" x2="469.80" y2="265.63" stroke="#1c1c1c" stroke-width="1.1"/>
<line x1="467.20" y1="257.06" x2="472.40" y2="257.06" stroke="#1c1c1c" stroke-width="1.1"/>
<line x1="467.20" y1="265.63" x2="472.40" y2="265.63" stroke="#1c1c1c" stroke-width="1.1"/>
<line x1="492.30" y1="263.23" x2="492.30" y2="276.95" stroke="#1c1c1c" stroke-width="1.1"/>
<line x1="489.70" y1="263.23" x2="494.90" y2="263.23" stroke="#1c1c1c" stroke-width="1.1"/>
<line x1="489.70" y1="276.95" x2="494.90" y2="276.95" stroke="#1c1c1c" stroke-width="1.1"/>
<polyline points="312.30,226.70 334.80,237.85 357.30,233.05 379.80,234.59 402.30,238.53 424.80,252.42 447.30,273.00 469.80,261.34 492.30,270.09" fill="none" stroke="#1c1c1c" stroke-width="1.6" stroke-linejoin="miter"/>
<rect x="310.30" y="224.70" width="4.00" height="4.00" fill="#1c1c1c"/>
<rect x="332.80" y="235.85" width="4.00" height="4.00" fill="#1c1c1c"/>
<rect x="355.30" y="231.05" width="4.00" height="4.00" fill="#1c1c1c"/>
<rect x="377.80" y="232.59" width="4.00" height="4.00" fill="#1c1c1c"/>
<rect x="400.30" y="236.53" width="4.00" height="4.00" fill="#1c1c1c"/>
<rect x="422.80" y="250.42" width="4.00" height="4.00" fill="#1c1c1c"/>
<rect x="445.30" y="271.00" width="4.00" height="4.00" fill="#1c1c1c"/>
<rect x="467.80" y="259.34" width="4.00" height="4.00" fill="#1c1c1c"/>
<rect x="490.30" y="268.09" width="4.00" height="4.00" fill="#1c1c1c"/>
<line x1="334.80" y1="264.26" x2="334.80" y2="271.12" stroke="#000" stroke-width="1.1"/>
<line x1="332.20" y1="264.26" x2="337.40" y2="264.26" stroke="#000" stroke-width="1.1"/>
<line x1="332.20" y1="271.12" x2="337.40" y2="271.12" stroke="#000" stroke-width="1.1"/>
<line x1="357.30" y1="249.85" x2="357.30" y2="265.29" stroke="#000" stroke-width="1.1"/>
<line x1="354.70" y1="249.85" x2="359.90" y2="249.85" stroke="#000" stroke-width="1.1"/>
<line x1="354.70" y1="265.29" x2="359.90" y2="265.29" stroke="#000" stroke-width="1.1"/>
<line x1="379.80" y1="254.83" x2="379.80" y2="272.66" stroke="#000" stroke-width="1.1"/>
<line x1="377.20" y1="254.83" x2="382.40" y2="254.83" stroke="#000" stroke-width="1.1"/>
<line x1="377.20" y1="272.66" x2="382.40" y2="272.66" stroke="#000" stroke-width="1.1"/>
<line x1="402.30" y1="261.34" x2="402.30" y2="290.50" stroke="#000" stroke-width="1.1"/>
<line x1="399.70" y1="261.34" x2="404.90" y2="261.34" stroke="#000" stroke-width="1.1"/>
<line x1="399.70" y1="290.50" x2="404.90" y2="290.50" stroke="#000" stroke-width="1.1"/>
<polyline points="312.30,226.70 334.80,267.69 357.30,257.57 379.80,263.74 402.30,275.92" fill="none" stroke="#000" stroke-width="1.6" stroke-linejoin="miter"/>
<polygon points="312.30,223.71 309.44,228.65 315.16,228.65" fill="#000"/>
<polygon points="334.80,264.70 331.94,269.64 337.66,269.64" fill="#000"/>
<polygon points="357.30,254.58 354.44,259.52 360.16,259.52" fill="#000"/>
<polygon points="379.80,260.75 376.94,265.69 382.66,265.69" fill="#000"/>
<polygon points="402.30,272.93 399.44,277.87 405.16,277.87" fill="#000"/>
<text x="425.80" y="297.50" font-size="18" text-anchor="middle" >*</text>
<text x="439.20" y="188.40" font-size="11.5" text-anchor="middle" >*</text>
<text x="444.10" y="190.00" font-size="11.5" text-anchor="start" textLength="39.5" lengthAdjust="spacingAndGlyphs" ><tspan font-style="italic">P</tspan> &lt; .05</text>
<text x="2.00" y="347.60" font-size="11" text-anchor="start" font-weight="bold" >D</text>
<text x="38.00" y="363.30" font-size="18" text-anchor="start" textLength="35.7" lengthAdjust="spacingAndGlyphs" >Skin</text>
<line x1="29.00" y1="384.26" x2="29.00" y2="390.98" stroke="#000" stroke-width="1.0"/>
<line x1="26.10" y1="384.26" x2="31.90" y2="384.26" stroke="#000" stroke-width="1.1"/>
<rect x="22.90" y="390.98" width="12.20" height="47.52" fill="#0a0a0a" stroke="#111" stroke-width="0.9"/>
<line x1="47.20" y1="412.34" x2="47.20" y2="419.78" stroke="#000" stroke-width="1.0"/>
<line x1="44.30" y1="412.34" x2="50.10" y2="412.34" stroke="#000" stroke-width="1.1"/>
<rect x="41.10" y="419.78" width="12.20" height="18.72" fill="#262626" stroke="#111" stroke-width="0.9"/>
<line x1="65.30" y1="400.34" x2="65.30" y2="407.30" stroke="#000" stroke-width="1.0"/>
<line x1="62.40" y1="400.34" x2="68.20" y2="400.34" stroke="#000" stroke-width="1.1"/>
<rect x="59.20" y="407.30" width="12.20" height="31.20" fill="#6e6e6e" stroke="#111" stroke-width="0.9"/>
<line x1="83.50" y1="410.42" x2="83.50" y2="416.18" stroke="#000" stroke-width="1.0"/>
<line x1="80.60" y1="410.42" x2="86.40" y2="410.42" stroke="#000" stroke-width="1.1"/>
<rect x="77.40" y="416.18" width="12.20" height="22.32" fill="#d6d6d6" stroke="#111" stroke-width="0.9"/>
<line x1="101.60" y1="399.38" x2="101.60" y2="405.62" stroke="#000" stroke-width="1.0"/>
<line x1="98.70" y1="399.38" x2="104.50" y2="399.38" stroke="#000" stroke-width="1.1"/>
<rect x="95.50" y="405.62" width="12.20" height="32.88" fill="#ffffff" stroke="#111" stroke-width="0.9"/>
<line x1="20.10" y1="378.50" x2="20.10" y2="438.90" stroke="#222" stroke-width="1.0"/>
<line x1="20.10" y1="438.50" x2="110.80" y2="438.50" stroke="#222" stroke-width="1.0"/>
<line x1="17.90" y1="438.50" x2="20.10" y2="438.50" stroke="#000" stroke-width="0.8"/>
<text x="17.50" y="440.20" font-size="4.6" text-anchor="end" fill="#444" >0.0</text>
<line x1="17.90" y1="414.50" x2="20.10" y2="414.50" stroke="#000" stroke-width="0.8"/>
<text x="17.50" y="416.20" font-size="4.6" text-anchor="end" fill="#444" >0.1</text>
<line x1="17.90" y1="390.50" x2="20.10" y2="390.50" stroke="#000" stroke-width="0.8"/>
<text x="17.50" y="392.20" font-size="4.6" text-anchor="end" fill="#444" >0.2</text>
<line x1="29.00" y1="438.50" x2="29.00" y2="440.50" stroke="#000" stroke-width="0.8"/>
<line x1="47.20" y1="438.50" x2="47.20" y2="440.50" stroke="#000" stroke-width="0.8"/>
<line x1="65.30" y1="438.50" x2="65.30" y2="440.50" stroke="#000" stroke-width="0.8"/>
<line x1="83.50" y1="438.50" x2="83.50" y2="440.50" stroke="#000" stroke-width="0.8"/>
<line x1="101.60" y1="438.50" x2="101.60" y2="440.50" stroke="#000" stroke-width="0.8"/>
<text x="0.00" y="0.00" font-size="6.0" text-anchor="end" font-weight="bold" transform="translate(23.96,453.36) rotate(-44)">Control T c</text>
<text x="0.00" y="0.00" font-size="6.0" text-anchor="end" font-weight="bold" transform="translate(47.20,448.50) rotate(-44)">Spleen DC</text>
<text x="0.00" y="0.00" font-size="6.0" text-anchor="end" font-weight="bold" transform="translate(65.30,448.50) rotate(-44)">Liver DC</text>
<text x="0.00" y="0.00" font-size="6.0" text-anchor="end" font-weight="bold" transform="translate(83.50,448.50) rotate(-44)">PLN DC</text>
<text x="0.00" y="0.00" font-size="6.0" text-anchor="end" font-weight="bold" transform="translate(101.60,448.50) rotate(-44)">MLN DCs</text>
<text x="29.00" y="447.00" font-size="4.5" text-anchor="middle" font-weight="bold" fill="#555" >*</text>
<text x="0.00" y="0.00" font-size="4.9" text-anchor="middle" font-weight="bold" textLength="46.4" lengthAdjust="spacingAndGlyphs" transform="translate(6.8,408.9) rotate(-90)">Apoptotic Cells/mm</text>
<text x="172.50" y="363.30" font-size="18" text-anchor="start" textLength="40" lengthAdjust="spacingAndGlyphs" >Liver</text>
<line x1="161.05" y1="384.89" x2="161.05" y2="390.93" stroke="#000" stroke-width="1.0"/>
<line x1="158.15" y1="384.89" x2="163.95" y2="384.89" stroke="#000" stroke-width="1.1"/>
<rect x="154.80" y="390.93" width="12.50" height="47.57" fill="#0a0a0a" stroke="#111" stroke-width="0.9"/>
<line x1="179.25" y1="409.39" x2="179.25" y2="412.23" stroke="#000" stroke-width="1.0"/>
<line x1="176.35" y1="409.39" x2="182.15" y2="409.39" stroke="#000" stroke-width="1.1"/>
<rect x="173.00" y="412.23" width="12.50" height="26.27" fill="#262626" stroke="#111" stroke-width="0.9"/>
<line x1="197.45" y1="434.24" x2="197.45" y2="435.31" stroke="#000" stroke-width="1.0"/>
<line x1="194.55" y1="434.24" x2="200.35" y2="434.24" stroke="#000" stroke-width="1.1"/>
<rect x="191.20" y="435.31" width="12.50" height="3.19" fill="#6e6e6e" stroke="#111" stroke-width="0.9"/>
<line x1="215.65" y1="421.11" x2="215.65" y2="428.56" stroke="#000" stroke-width="1.0"/>
<line x1="212.75" y1="421.11" x2="218.55" y2="421.11" stroke="#000" stroke-width="1.1"/>
<rect x="209.40" y="428.56" width="12.50" height="9.94" fill="#d6d6d6" stroke="#111" stroke-width="0.9"/>
<line x1="233.85" y1="404.42" x2="233.85" y2="414.36" stroke="#000" stroke-width="1.0"/>
<line x1="230.95" y1="404.42" x2="236.75" y2="404.42" stroke="#000" stroke-width="1.1"/>
<rect x="227.60" y="414.36" width="12.50" height="24.14" fill="#ffffff" stroke="#111" stroke-width="0.9"/>
<line x1="152.30" y1="378.50" x2="152.30" y2="438.90" stroke="#222" stroke-width="1.0"/>
<line x1="152.30" y1="438.50" x2="242.00" y2="438.50" stroke="#222" stroke-width="1.0"/>
<line x1="150.10" y1="438.50" x2="152.30" y2="438.50" stroke="#000" stroke-width="0.8"/>
<text x="149.70" y="440.20" font-size="4.6" text-anchor="end" fill="#444" >0</text>
<line x1="150.10" y1="420.75" x2="152.30" y2="420.75" stroke="#000" stroke-width="0.8"/>
<text x="149.70" y="422.45" font-size="4.6" text-anchor="end" fill="#444" >5</text>
<line x1="150.10" y1="403.00" x2="152.30" y2="403.00" stroke="#000" stroke-width="0.8"/>
<text x="149.70" y="404.70" font-size="4.6" text-anchor="end" fill="#444" >10</text>
<line x1="150.10" y1="385.25" x2="152.30" y2="385.25" stroke="#000" stroke-width="0.8"/>
<text x="149.70" y="386.95" font-size="4.6" text-anchor="end" fill="#444" >15</text>
<line x1="161.05" y1="438.50" x2="161.05" y2="440.50" stroke="#000" stroke-width="0.8"/>
<line x1="179.25" y1="438.50" x2="179.25" y2="440.50" stroke="#000" stroke-width="0.8"/>
<line x1="197.45" y1="438.50" x2="197.45" y2="440.50" stroke="#000" stroke-width="0.8"/>
<line x1="215.65" y1="438.50" x2="215.65" y2="440.50" stroke="#000" stroke-width="0.8"/>
<line x1="233.85" y1="438.50" x2="233.85" y2="440.50" stroke="#000" stroke-width="0.8"/>
<text x="0.00" y="0.00" font-size="5.4" text-anchor="end" font-weight="bold" transform="translate(160.97,446.54) rotate(-44)">Control T cell</text>
<text x="0.00" y="0.00" font-size="5.4" text-anchor="end" font-weight="bold" transform="translate(180.25,445.50) rotate(-44)">Spleen DCs</text>
<text x="0.00" y="0.00" font-size="5.4" text-anchor="end" font-weight="bold" transform="translate(198.45,445.50) rotate(-44)">Liver DCs</text>
<text x="0.00" y="0.00" font-size="5.4" text-anchor="end" font-weight="bold" transform="translate(216.65,445.50) rotate(-44)">PLN DCs</text>
<text x="0.00" y="0.00" font-size="5.4" text-anchor="end" font-weight="bold" transform="translate(234.85,445.50) rotate(-44)">MLN DCs</text>
<text x="161.80" y="443.80" font-size="4.5" text-anchor="middle" font-weight="bold" fill="#555" >*</text>
<text x="0.00" y="0.00" font-size="5.1" text-anchor="middle" font-weight="bold" textLength="29.7" lengthAdjust="spacingAndGlyphs" transform="translate(143.1,408.9) rotate(-90)">GvHD Score</text>
<text x="282.00" y="363.30" font-size="18" text-anchor="start" textLength="100.5" lengthAdjust="spacingAndGlyphs" >Small Bowel</text>
<text x="377.50" y="380.50" font-size="19" text-anchor="middle" >*</text>
<line x1="303.40" y1="387.77" x2="303.40" y2="391.22" stroke="#000" stroke-width="1.0"/>
<line x1="300.50" y1="387.77" x2="306.30" y2="387.77" stroke="#000" stroke-width="1.1"/>
<rect x="297.30" y="391.22" width="12.20" height="47.28" fill="#0a0a0a" stroke="#111" stroke-width="0.9"/>
<line x1="321.60" y1="398.12" x2="321.60" y2="406.00" stroke="#000" stroke-width="1.0"/>
<line x1="318.70" y1="398.12" x2="324.50" y2="398.12" stroke="#000" stroke-width="1.1"/>
<rect x="315.50" y="406.00" width="12.20" height="32.50" fill="#262626" stroke="#111" stroke-width="0.9"/>
<rect x="333.70" y="427.96" width="12.20" height="10.54" fill="#6e6e6e" stroke="#111" stroke-width="0.9"/>
<rect x="351.90" y="427.96" width="12.20" height="10.54" fill="#d6d6d6" stroke="#111" stroke-width="0.9"/>
<line x1="376.10" y1="379.89" x2="376.10" y2="394.18" stroke="#000" stroke-width="1.0"/>
<line x1="373.20" y1="379.89" x2="379.00" y2="379.89" stroke="#000" stroke-width="1.1"/>
<rect x="370.00" y="394.18" width="12.20" height="44.32" fill="#ffffff" stroke="#111" stroke-width="0.9"/>
<line x1="294.50" y1="378.50" x2="294.50" y2="438.90" stroke="#222" stroke-width="1.0"/>
<line x1="294.50" y1="438.50" x2="385.00" y2="438.50" stroke="#222" stroke-width="1.0"/>
<line x1="292.30" y1="438.50" x2="294.50" y2="438.50" stroke="#000" stroke-width="0.8"/>
<text x="291.90" y="440.20" font-size="4.6" text-anchor="end" fill="#444" >0</text>
<line x1="292.30" y1="418.80" x2="294.50" y2="418.80" stroke="#000" stroke-width="0.8"/>
<text x="291.90" y="420.50" font-size="4.6" text-anchor="end" fill="#444" >2</text>
<line x1="292.30" y1="399.10" x2="294.50" y2="399.10" stroke="#000" stroke-width="0.8"/>
<text x="291.90" y="400.80" font-size="4.6" text-anchor="end" fill="#444" >4</text>
<line x1="292.30" y1="379.40" x2="294.50" y2="379.40" stroke="#000" stroke-width="0.8"/>
<text x="291.90" y="381.10" font-size="4.6" text-anchor="end" fill="#444" >6</text>
<line x1="303.40" y1="438.50" x2="303.40" y2="440.50" stroke="#000" stroke-width="0.8"/>
<line x1="321.60" y1="438.50" x2="321.60" y2="440.50" stroke="#000" stroke-width="0.8"/>
<line x1="339.80" y1="438.50" x2="339.80" y2="440.50" stroke="#000" stroke-width="0.8"/>
<line x1="358.00" y1="438.50" x2="358.00" y2="440.50" stroke="#000" stroke-width="0.8"/>
<line x1="376.10" y1="438.50" x2="376.10" y2="440.50" stroke="#000" stroke-width="0.8"/>
<text x="0.00" y="0.00" font-size="6.0" text-anchor="end" font-weight="bold" transform="translate(298.36,453.36) rotate(-44)">Control T c</text>
<text x="0.00" y="0.00" font-size="6.0" text-anchor="end" font-weight="bold" transform="translate(321.60,448.50) rotate(-44)">Spleen DC</text>
<text x="0.00" y="0.00" font-size="6.0" text-anchor="end" font-weight="bold" transform="translate(339.80,448.50) rotate(-44)">Liver DC</text>
<text x="0.00" y="0.00" font-size="6.0" text-anchor="end" font-weight="bold" transform="translate(358.00,448.50) rotate(-44)">PLN DC</text>
<text x="0.00" y="0.00" font-size="6.0" text-anchor="end" font-weight="bold" transform="translate(376.10,448.50) rotate(-44)">MLN DCs</text>
<text x="303.40" y="447.00" font-size="4.5" text-anchor="middle" font-weight="bold" fill="#555" >*</text>
<text x="0.00" y="0.00" font-size="5.1" text-anchor="middle" font-weight="bold" textLength="29.7" lengthAdjust="spacingAndGlyphs" transform="translate(285,409) rotate(-90)">GvHD Score</text>
<text x="415.50" y="363.30" font-size="18" text-anchor="start" textLength="103" lengthAdjust="spacingAndGlyphs" >Large Bowel</text>
<text x="511.60" y="380.50" font-size="19" text-anchor="middle" >**</text>
<line x1="438.50" y1="389.94" x2="438.50" y2="393.09" stroke="#000" stroke-width="1.0"/>
<line x1="435.60" y1="389.94" x2="441.40" y2="389.94" stroke="#000" stroke-width="1.1"/>
<rect x="432.50" y="393.09" width="12.00" height="45.31" fill="#0a0a0a" stroke="#111" stroke-width="0.9"/>
<line x1="456.50" y1="401.95" x2="456.50" y2="407.86" stroke="#000" stroke-width="1.0"/>
<line x1="453.60" y1="401.95" x2="459.40" y2="401.95" stroke="#000" stroke-width="1.1"/>
<rect x="450.50" y="407.86" width="12.00" height="30.54" fill="#262626" stroke="#111" stroke-width="0.9"/>
<line x1="474.40" y1="430.13" x2="474.40" y2="432.59" stroke="#000" stroke-width="1.0"/>
<line x1="471.50" y1="430.13" x2="477.30" y2="430.13" stroke="#000" stroke-width="1.1"/>
<rect x="468.40" y="432.59" width="12.00" height="5.81" fill="#6e6e6e" stroke="#111" stroke-width="0.9"/>
<rect x="486.40" y="427.86" width="12.00" height="10.54" fill="#d6d6d6" stroke="#111" stroke-width="0.9"/>
<line x1="510.40" y1="390.63" x2="510.40" y2="401.95" stroke="#000" stroke-width="1.0"/>
<line x1="507.50" y1="390.63" x2="513.30" y2="390.63" stroke="#000" stroke-width="1.1"/>
<rect x="504.40" y="401.95" width="12.00" height="36.45" fill="#ffffff" stroke="#111" stroke-width="0.9"/>
<line x1="429.60" y1="378.50" x2="429.60" y2="438.80" stroke="#222" stroke-width="1.0"/>
<line x1="429.60" y1="438.40" x2="519.50" y2="438.40" stroke="#222" stroke-width="1.0"/>
<line x1="427.40" y1="438.40" x2="429.60" y2="438.40" stroke="#000" stroke-width="0.8"/>
<text x="427.00" y="440.10" font-size="4.6" text-anchor="end" fill="#444" >0</text>
<line x1="427.40" y1="418.70" x2="429.60" y2="418.70" stroke="#000" stroke-width="0.8"/>
<text x="427.00" y="420.40" font-size="4.6" text-anchor="end" fill="#444" >2</text>
<line x1="427.40" y1="399.00" x2="429.60" y2="399.00" stroke="#000" stroke-width="0.8"/>
<text x="427.00" y="400.70" font-size="4.6" text-anchor="end" fill="#444" >4</text>
<line x1="427.40" y1="379.30" x2="429.60" y2="379.30" stroke="#000" stroke-width="0.8"/>
<text x="427.00" y="381.00" font-size="4.6" text-anchor="end" fill="#444" >6</text>
<line x1="438.50" y1="438.40" x2="438.50" y2="440.40" stroke="#000" stroke-width="0.8"/>
<line x1="456.50" y1="438.40" x2="456.50" y2="440.40" stroke="#000" stroke-width="0.8"/>
<line x1="474.40" y1="438.40" x2="474.40" y2="440.40" stroke="#000" stroke-width="0.8"/>
<line x1="492.40" y1="438.40" x2="492.40" y2="440.40" stroke="#000" stroke-width="0.8"/>
<line x1="510.40" y1="438.40" x2="510.40" y2="440.40" stroke="#000" stroke-width="0.8"/>
<text x="0.00" y="0.00" font-size="6.0" text-anchor="end" font-weight="bold" transform="translate(433.46,453.26) rotate(-44)">Control T c</text>
<text x="0.00" y="0.00" font-size="6.0" text-anchor="end" font-weight="bold" transform="translate(456.50,448.40) rotate(-44)">Spleen DC</text>
<text x="0.00" y="0.00" font-size="6.0" text-anchor="end" font-weight="bold" transform="translate(474.40,448.40) rotate(-44)">Liver DC</text>
<text x="0.00" y="0.00" font-size="6.0" text-anchor="end" font-weight="bold" transform="translate(492.40,448.40) rotate(-44)">PLN DC</text>
<text x="0.00" y="0.00" font-size="6.0" text-anchor="end" font-weight="bold" transform="translate(510.40,448.40) rotate(-44)">MLN DCs</text>
<text x="438.50" y="447.00" font-size="4.5" text-anchor="middle" font-weight="bold" fill="#555" >*</text>
<text x="0.00" y="0.00" font-size="5.1" text-anchor="middle" font-weight="bold" textLength="29.7" lengthAdjust="spacingAndGlyphs" transform="translate(422.9,409) rotate(-90)">GvHD Score</text>
<text x="2.00" y="499.60" font-size="11" text-anchor="start" font-weight="bold" >E</text>
<text x="41.20" y="520.50" font-size="18" text-anchor="start" >IFN&#947;</text>
<line x1="30.60" y1="557.18" x2="30.60" y2="564.02" stroke="#000" stroke-width="1.0"/>
<line x1="27.70" y1="557.18" x2="33.50" y2="557.18" stroke="#000" stroke-width="1.1"/>
<rect x="24.40" y="564.02" width="12.40" height="27.38" fill="#0a0a0a" stroke="#111" stroke-width="0.9"/>
<line x1="48.70" y1="566.64" x2="48.70" y2="572.68" stroke="#000" stroke-width="1.0"/>
<line x1="45.80" y1="566.64" x2="51.60" y2="566.64" stroke="#000" stroke-width="1.1"/>
<rect x="42.50" y="572.68" width="12.40" height="18.72" fill="#262626" stroke="#111" stroke-width="0.9"/>
<line x1="66.80" y1="573.28" x2="66.80" y2="579.72" stroke="#000" stroke-width="1.0"/>
<line x1="63.90" y1="573.28" x2="69.70" y2="573.28" stroke="#000" stroke-width="1.1"/>
<rect x="60.60" y="579.72" width="12.40" height="11.68" fill="#6e6e6e" stroke="#111" stroke-width="0.9"/>
<line x1="84.90" y1="566.24" x2="84.90" y2="575.09" stroke="#000" stroke-width="1.0"/>
<line x1="82.00" y1="566.24" x2="87.80" y2="566.24" stroke="#000" stroke-width="1.1"/>
<rect x="78.70" y="575.09" width="12.40" height="16.31" fill="#d6d6d6" stroke="#111" stroke-width="0.9"/>
<line x1="103.00" y1="539.46" x2="103.00" y2="555.37" stroke="#000" stroke-width="1.0"/>
<line x1="100.10" y1="539.46" x2="105.90" y2="539.46" stroke="#000" stroke-width="1.1"/>
<rect x="96.80" y="555.37" width="12.40" height="36.03" fill="#ffffff" stroke="#111" stroke-width="0.9"/>
<line x1="21.00" y1="531.00" x2="21.00" y2="591.80" stroke="#222" stroke-width="1.0"/>
<line x1="21.00" y1="591.40" x2="111.00" y2="591.40" stroke="#222" stroke-width="1.0"/>
<line x1="18.80" y1="591.40" x2="21.00" y2="591.40" stroke="#000" stroke-width="0.8"/>
<text x="18.40" y="593.10" font-size="4.6" text-anchor="end" fill="#444" >0</text>
<line x1="18.80" y1="571.27" x2="21.00" y2="571.27" stroke="#000" stroke-width="0.8"/>
<text x="18.40" y="572.97" font-size="4.6" text-anchor="end" fill="#444" >100</text>
<line x1="18.80" y1="551.14" x2="21.00" y2="551.14" stroke="#000" stroke-width="0.8"/>
<text x="18.40" y="552.84" font-size="4.6" text-anchor="end" fill="#444" >200</text>
<line x1="18.80" y1="531.01" x2="21.00" y2="531.01" stroke="#000" stroke-width="0.8"/>
<text x="18.40" y="532.71" font-size="4.6" text-anchor="end" fill="#444" >300</text>
<line x1="30.60" y1="591.40" x2="30.60" y2="593.40" stroke="#000" stroke-width="0.8"/>
<line x1="48.70" y1="591.40" x2="48.70" y2="593.40" stroke="#000" stroke-width="0.8"/>
<line x1="66.80" y1="591.40" x2="66.80" y2="593.40" stroke="#000" stroke-width="0.8"/>
<line x1="84.90" y1="591.40" x2="84.90" y2="593.40" stroke="#000" stroke-width="0.8"/>
<line x1="103.00" y1="591.40" x2="103.00" y2="593.40" stroke="#000" stroke-width="0.8"/>
<text x="0.00" y="0.00" font-size="6.0" text-anchor="end" font-weight="bold" transform="translate(29.88,602.09) rotate(-44)">Control T c</text>
<text x="0.00" y="0.00" font-size="6.0" text-anchor="end" font-weight="bold" transform="translate(48.70,601.40) rotate(-44)">Spleen DC</text>
<text x="0.00" y="0.00" font-size="6.0" text-anchor="end" font-weight="bold" transform="translate(66.80,601.40) rotate(-44)">Liver DC</text>
<text x="0.00" y="0.00" font-size="6.0" text-anchor="end" font-weight="bold" transform="translate(84.90,601.40) rotate(-44)">PLN DC</text>
<text x="0.00" y="0.00" font-size="6.0" text-anchor="end" font-weight="bold" transform="translate(103.00,601.40) rotate(-44)">MLN DCs</text>
<text x="0.00" y="0.00" font-size="4.7" text-anchor="middle" font-weight="bold" textLength="12" lengthAdjust="spacingAndGlyphs" transform="translate(8.6,562.5) rotate(-90)">pg/mL</text>
<text x="185.20" y="497.90" font-size="11" text-anchor="start" font-weight="bold" >F</text>
<text x="210.90" y="516.80" font-size="18" text-anchor="start" textLength="166" lengthAdjust="spacingAndGlyphs" >Liver Function Tests</text>
<line x1="243.15" y1="598.70" x2="243.15" y2="601.20" stroke="#000" stroke-width="0.7"/>
<line x1="241.90" y1="598.70" x2="244.40" y2="598.70" stroke="#000" stroke-width="0.7"/>
<rect x="241.50" y="601.20" width="3.30" height="15.00" fill="#0a0a0a" stroke="#000" stroke-width="0.6"/>
<line x1="248.05" y1="588.70" x2="248.05" y2="592.45" stroke="#000" stroke-width="0.7"/>
<line x1="246.80" y1="588.70" x2="249.30" y2="588.70" stroke="#000" stroke-width="0.7"/>
<rect x="246.40" y="592.45" width="3.30" height="23.75" fill="#262626" stroke="#000" stroke-width="0.6"/>
<line x1="252.85" y1="583.20" x2="252.85" y2="586.95" stroke="#000" stroke-width="0.7"/>
<line x1="251.60" y1="583.20" x2="254.10" y2="583.20" stroke="#000" stroke-width="0.7"/>
<rect x="251.20" y="586.95" width="3.30" height="29.25" fill="#6e6e6e" stroke="#000" stroke-width="0.6"/>
<line x1="257.75" y1="588.95" x2="257.75" y2="589.95" stroke="#000" stroke-width="0.7"/>
<line x1="256.50" y1="588.95" x2="259.00" y2="588.95" stroke="#000" stroke-width="0.7"/>
<rect x="256.10" y="589.95" width="3.30" height="26.25" fill="#d6d6d6" stroke="#000" stroke-width="0.6"/>
<line x1="262.65" y1="589.20" x2="262.65" y2="591.95" stroke="#000" stroke-width="0.7"/>
<line x1="261.40" y1="589.20" x2="263.90" y2="589.20" stroke="#000" stroke-width="0.7"/>
<rect x="261.00" y="591.95" width="3.30" height="24.25" fill="#ffffff" stroke="#000" stroke-width="0.6"/>
<line x1="270.95" y1="566.95" x2="270.95" y2="583.20" stroke="#000" stroke-width="0.7"/>
<line x1="269.70" y1="566.95" x2="272.20" y2="566.95" stroke="#000" stroke-width="0.7"/>
<rect x="269.30" y="583.20" width="3.30" height="33.00" fill="#0a0a0a" stroke="#000" stroke-width="0.6"/>
<rect x="274.20" y="609.45" width="3.30" height="6.75" fill="#262626" stroke="#000" stroke-width="0.6"/>
<line x1="280.75" y1="605.70" x2="280.75" y2="608.70" stroke="#000" stroke-width="0.7"/>
<line x1="279.50" y1="605.70" x2="282.00" y2="605.70" stroke="#000" stroke-width="0.7"/>
<rect x="279.10" y="608.70" width="3.30" height="7.50" fill="#6e6e6e" stroke="#000" stroke-width="0.6"/>
<line x1="285.65" y1="606.95" x2="285.65" y2="608.20" stroke="#000" stroke-width="0.7"/>
<line x1="284.40" y1="606.95" x2="286.90" y2="606.95" stroke="#000" stroke-width="0.7"/>
<rect x="284.00" y="608.20" width="3.30" height="8.00" fill="#d6d6d6" stroke="#000" stroke-width="0.6"/>
<line x1="290.55" y1="602.45" x2="290.55" y2="603.20" stroke="#000" stroke-width="0.7"/>
<line x1="289.30" y1="602.45" x2="291.80" y2="602.45" stroke="#000" stroke-width="0.7"/>
<rect x="288.90" y="603.20" width="3.30" height="13.00" fill="#ffffff" stroke="#000" stroke-width="0.6"/>
<line x1="298.85" y1="541.20" x2="298.85" y2="566.95" stroke="#000" stroke-width="0.7"/>
<line x1="297.60" y1="541.20" x2="300.10" y2="541.20" stroke="#000" stroke-width="0.7"/>
<rect x="297.20" y="566.95" width="3.30" height="49.25" fill="#0a0a0a" stroke="#000" stroke-width="0.6"/>
<line x1="303.95" y1="597.45" x2="303.95" y2="599.45" stroke="#000" stroke-width="0.7"/>
<line x1="302.70" y1="597.45" x2="305.20" y2="597.45" stroke="#000" stroke-width="0.7"/>
<rect x="302.30" y="599.45" width="3.30" height="16.75" fill="#262626" stroke="#000" stroke-width="0.6"/>
<line x1="308.85" y1="599.95" x2="308.85" y2="601.20" stroke="#000" stroke-width="0.7"/>
<line x1="307.60" y1="599.95" x2="310.10" y2="599.95" stroke="#000" stroke-width="0.7"/>
<rect x="307.20" y="601.20" width="3.30" height="15.00" fill="#6e6e6e" stroke="#000" stroke-width="0.6"/>
<line x1="313.85" y1="570.70" x2="313.85" y2="586.20" stroke="#000" stroke-width="0.7"/>
<line x1="312.60" y1="570.70" x2="315.10" y2="570.70" stroke="#000" stroke-width="0.7"/>
<rect x="312.20" y="586.20" width="3.30" height="30.00" fill="#d6d6d6" stroke="#000" stroke-width="0.6"/>
<line x1="318.85" y1="592.45" x2="318.85" y2="595.45" stroke="#000" stroke-width="0.7"/>
<line x1="317.60" y1="592.45" x2="320.10" y2="592.45" stroke="#000" stroke-width="0.7"/>
<rect x="317.20" y="595.45" width="3.30" height="20.75" fill="#ffffff" stroke="#000" stroke-width="0.6"/>
<rect x="325.60" y="611.70" width="3.30" height="4.50" fill="#0a0a0a" stroke="#000" stroke-width="0.6"/>
<line x1="332.15" y1="610.70" x2="332.15" y2="611.45" stroke="#000" stroke-width="0.7"/>
<line x1="330.90" y1="610.70" x2="333.40" y2="610.70" stroke="#000" stroke-width="0.7"/>
<rect x="330.50" y="611.45" width="3.30" height="4.75" fill="#262626" stroke="#000" stroke-width="0.6"/>
<line x1="337.05" y1="610.70" x2="337.05" y2="611.45" stroke="#000" stroke-width="0.7"/>
<line x1="335.80" y1="610.70" x2="338.30" y2="610.70" stroke="#000" stroke-width="0.7"/>
<rect x="335.40" y="611.45" width="3.30" height="4.75" fill="#6e6e6e" stroke="#000" stroke-width="0.6"/>
<line x1="341.95" y1="610.70" x2="341.95" y2="611.70" stroke="#000" stroke-width="0.7"/>
<line x1="340.70" y1="610.70" x2="343.20" y2="610.70" stroke="#000" stroke-width="0.7"/>
<rect x="340.30" y="611.70" width="3.30" height="4.50" fill="#d6d6d6" stroke="#000" stroke-width="0.6"/>
<line x1="346.85" y1="610.95" x2="346.85" y2="611.70" stroke="#000" stroke-width="0.7"/>
<line x1="345.60" y1="610.95" x2="348.10" y2="610.95" stroke="#000" stroke-width="0.7"/>
<rect x="345.20" y="611.70" width="3.30" height="4.50" fill="#ffffff" stroke="#000" stroke-width="0.6"/>
<line x1="238.90" y1="540.60" x2="238.90" y2="616.50" stroke="#333" stroke-width="1.0"/>
<line x1="238.90" y1="616.20" x2="352.30" y2="616.20" stroke="#333" stroke-width="1.0"/>
<line x1="352.30" y1="540.80" x2="352.30" y2="616.50" stroke="#555" stroke-width="0.9"/>
<line x1="236.90" y1="616.20" x2="238.90" y2="616.20" stroke="#000" stroke-width="0.7"/>
<text x="236.30" y="618.30" font-size="5.9" text-anchor="end" fill="#333" >0</text>
<line x1="236.90" y1="591.20" x2="238.90" y2="591.20" stroke="#000" stroke-width="0.7"/>
<text x="236.30" y="593.30" font-size="5.9" text-anchor="end" fill="#333" >100</text>
<line x1="236.90" y1="566.20" x2="238.90" y2="566.20" stroke="#000" stroke-width="0.7"/>
<text x="236.30" y="568.30" font-size="5.9" text-anchor="end" fill="#333" >200</text>
<line x1="236.90" y1="541.20" x2="238.90" y2="541.20" stroke="#000" stroke-width="0.7"/>
<text x="236.30" y="543.30" font-size="5.9" text-anchor="end" fill="#333" >300</text>
<line x1="352.30" y1="616.20" x2="354.60" y2="616.20" stroke="#000" stroke-width="0.7"/>
<text x="355.60" y="618.50" font-size="6.5" text-anchor="start" >0</text>
<line x1="352.30" y1="591.20" x2="354.60" y2="591.20" stroke="#000" stroke-width="0.7"/>
<text x="355.60" y="593.50" font-size="6.5" text-anchor="start" >1</text>
<line x1="352.30" y1="566.20" x2="354.60" y2="566.20" stroke="#000" stroke-width="0.7"/>
<text x="355.60" y="568.50" font-size="6.5" text-anchor="start" >2</text>
<line x1="352.30" y1="541.20" x2="354.60" y2="541.20" stroke="#000" stroke-width="0.7"/>
<text x="355.60" y="543.50" font-size="6.5" text-anchor="start" >3</text>
<line x1="253.00" y1="616.20" x2="253.00" y2="618.30" stroke="#000" stroke-width="0.7"/>
<line x1="280.80" y1="616.20" x2="280.80" y2="618.30" stroke="#000" stroke-width="0.7"/>
<line x1="309.00" y1="616.20" x2="309.00" y2="618.30" stroke="#000" stroke-width="0.7"/>
<line x1="337.00" y1="616.20" x2="337.00" y2="618.30" stroke="#000" stroke-width="0.7"/>
<text x="252.00" y="625.50" font-size="6.6" text-anchor="middle" >ALP</text>
<text x="280.00" y="625.50" font-size="6.6" text-anchor="middle" >ALT</text>
<text x="307.70" y="625.50" font-size="6.6" text-anchor="middle" >AST</text>
<text x="335.40" y="625.50" font-size="6.6" text-anchor="middle" >Bilirubin</text>
<text x="0.00" y="0.00" font-size="6" text-anchor="middle" font-weight="bold" transform="translate(224.6,578) rotate(-90)">IU/mL</text>
<text x="0.00" y="0.00" font-size="6.8" text-anchor="middle" transform="translate(362.5,578.6) rotate(90)">mg/dl</text>
<rect x="394.30" y="549.10" width="11.20" height="4.60" fill="#0a0a0a" stroke="#000" stroke-width="0.7"/>
<text x="407.50" y="553.80" font-size="6.6" text-anchor="start" textLength="37.6" lengthAdjust="spacingAndGlyphs" >Control T cells</text>
<rect x="394.30" y="558.13" width="11.20" height="4.60" fill="#262626" stroke="#000" stroke-width="0.7"/>
<text x="407.50" y="562.83" font-size="6.6" text-anchor="start" textLength="32.3" lengthAdjust="spacingAndGlyphs" >Spleen DCs</text>
<rect x="394.30" y="567.16" width="11.20" height="4.60" fill="#6e6e6e" stroke="#000" stroke-width="0.7"/>
<text x="407.50" y="571.86" font-size="6.6" text-anchor="start" textLength="26.9" lengthAdjust="spacingAndGlyphs" >Liver DCs</text>
<rect x="394.30" y="576.19" width="11.20" height="4.60" fill="#d6d6d6" stroke="#000" stroke-width="0.7"/>
<text x="407.50" y="580.89" font-size="6.6" text-anchor="start" textLength="25.4" lengthAdjust="spacingAndGlyphs" >PLN DCs</text>
<rect x="394.30" y="585.22" width="11.20" height="4.60" fill="#ffffff" stroke="#000" stroke-width="0.7"/>
<text x="407.50" y="589.92" font-size="6.6" text-anchor="start" textLength="26.3" lengthAdjust="spacingAndGlyphs" >MLN DCs</text></svg></body></html>
